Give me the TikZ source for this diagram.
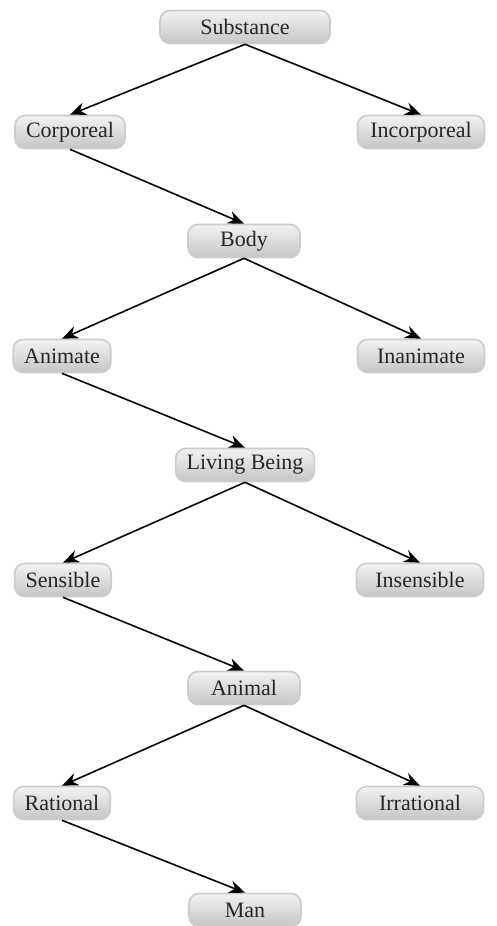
\documentclass[tikz,border=0pt]{standalone}
\usepackage{fontspec}
\setmainfont{Liberation Serif}
\usetikzlibrary{arrows.meta,positioning}
\tikzset{>={Stealth[length=16pt,width=13pt]},
  concept/.style={rounded corners=10pt,draw=gray!40,line width=1.6pt,
    top color=gray!10,bottom color=gray!45,text=black!85,
    inner xsep=11pt,inner ysep=0pt,minimum height=33pt,
    font=\fontsize{22}{26}\selectfont},
  spine/.style={concept,minimum width=112pt},
  other/.style={concept,minimum width=127pt}}

\begin{document}
\begin{tikzpicture}[x=1pt,y=1pt]
  \useasboundingbox (0,0) rectangle (497,-926);
                   \node[spine,minimum width=170pt] (subst) at (245,-27) {Substance};
                   \node[concept] (corp)   at (70,-132)  {Corporeal};
                   \node[other]   (incorp) at (421,-132) {Incorporeal};
                   \node[spine]   (body)   at (244,-241) {Body};
                   \node[concept] (anim)   at (62,-356)  {Animate};
                   \node[other]   (inanim) at (421,-356) {Inanimate};
                   \node[spine]   (living) at (245,-465) {Living Being};
                   \node[concept] (sens)   at (63,-580)  {Sensible};
                   \node[other]   (insens) at (420,-580) {Insensible};
                   \node[spine]   (animal) at (244,-688) {Animal};
                   \node[concept] (rat)    at (62,-803)  {Rational};
                   \node[other]   (irrat)  at (420,-803) {Irrational};
                   \node[spine]   (man)    at (245,-910) {Man};
                    \path[->,line width=1.6pt]
                    (subst.south)  edge (corp.north)
                                   edge (incorp.north)
                    (corp.south)   edge (body.north)
                    (body.south)   edge (anim.north)
                                   edge (inanim.north)
                    (anim.south)   edge (living.north)
                    (living.south) edge (sens.north)
                                   edge (insens.north)
                    (sens.south)   edge (animal.north)
                    (animal.south) edge (rat.north)
                                   edge (irrat.north)
                    (rat.south)    edge (man.north);
                \end{tikzpicture}
\end{document}
